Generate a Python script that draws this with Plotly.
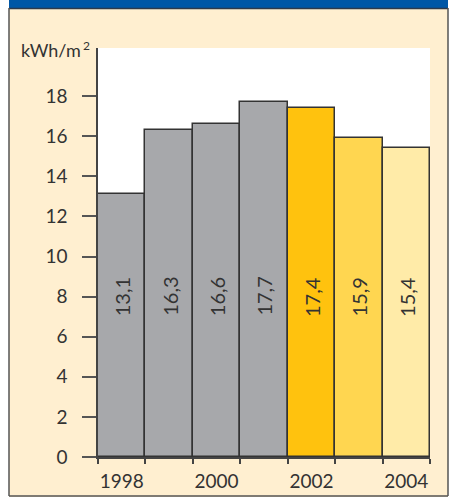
import plotly.graph_objects as go

years = [1998, 1999, 2000, 2001, 2002, 2003, 2004]
values = [13.1, 16.3, 16.6, 17.7, 17.4, 15.9, 15.4]
value_labels = ["13,1", "16,3", "16,6", "17,7", "17,4", "15,9", "15,4"]
bar_colors = ["#a7a8ab", "#a7a8ab", "#a7a8ab", "#a7a8ab", "#ffc20e", "#ffd650", "#ffeba8"]
x_tick_years = [1998, 2000, 2002, 2004]
x_tick_text = ["1998", "2000", "2002", "2004"]
y_ticks = [0, 2, 4, 6, 8, 10, 12, 14, 16, 18]
unit_base = "kWh/m"
unit_exp = "2"

W, H = 450, 497
L, R, T, B = 98, 430, 48, 457  # plot area in pixels


def px(x):
    return (x - L) / (R - L)


def py(y):
    return (B - y) / (B - T)


FONT = "Lato, 'DejaVu Sans', sans-serif"
TXT = "#333333"

fig = go.Figure()
fig.add_trace(go.Bar(
    x=years, y=values, width=1,
    marker=dict(color=bar_colors, line=dict(color="#333333", width=1.5)),
    hoverinfo="skip",
))

for yr, lab in zip(years, value_labels):
    fig.add_annotation(x=yr, y=8, text=lab, textangle=-90, showarrow=False,
                       font=dict(family=FONT, size=20, color=TXT),
                       xref="x", yref="y")

fig.add_annotation(x=px(20), y=py(50), xref="paper", yref="paper", text=unit_base,
                   showarrow=False, xanchor="left", yanchor="middle", borderpad=0,
                   font=dict(family=FONT, size=18, color=TXT))
fig.add_annotation(x=px(82), y=py(45), xref="paper", yref="paper", text=unit_exp,
                   showarrow=False, xanchor="left", yanchor="middle", borderpad=0,
                   font=dict(family=FONT, size=12, color=TXT))

shapes = [
    dict(type="rect", xref="paper", yref="paper", x0=px(-2), x1=px(9), y0=py(H + 2), y1=py(-2),
         fillcolor="white", line=dict(width=0), layer="above"),
    dict(type="rect", xref="paper", yref="paper", x0=px(448), x1=px(W + 2), y0=py(H + 2), y1=py(-2),
         fillcolor="white", line=dict(width=0), layer="above"),
    dict(type="rect", xref="paper", yref="paper", x0=px(9), x1=px(448), y0=py(8), y1=py(-2),
         fillcolor="#0057a6", line=dict(width=0), layer="above"),
    dict(type="line", xref="paper", yref="paper", x0=px(9), x1=px(448), y0=py(8.5), y1=py(8.5),
         line=dict(color="#2f3a4a", width=1.5), layer="above"),
    dict(type="line", xref="paper", yref="paper", x0=px(9), x1=px(9), y0=py(8), y1=py(496),
         line=dict(color="#555555", width=1.5), layer="above"),
    dict(type="line", xref="paper", yref="paper", x0=px(448), x1=px(448), y0=py(8), y1=py(496),
         line=dict(color="#555555", width=1.5), layer="above"),
    dict(type="line", xref="paper", yref="paper", x0=px(9), x1=px(448), y0=py(496), y1=py(496),
         line=dict(color="#555555", width=1.5), layer="above"),
]

x_lo, x_hi = years[0] - 0.5, years[-1] + 0.5
boundaries = [y - 0.5 for y in years] + [x_hi]

fig.update_layout(
    width=W, height=H,
    margin=dict(l=L, r=W - R, t=T, b=H - B, pad=0, autoexpand=False),
    paper_bgcolor="#ffefd0",
    plot_bgcolor="white",
    bargap=0,
    showlegend=False,
    shapes=shapes,
    font=dict(family=FONT, color=TXT),
    xaxis=dict(
        tickmode="array", tickvals=x_tick_years, ticktext=x_tick_text,
        ticks="", ticklabelstandoff=6, automargin=False,
        minor=dict(tickmode="array", tickvals=boundaries, ticks="outside", ticklen=5,
                   tickwidth=1.5, tickcolor="#444444", showgrid=False),
        showline=True, linecolor="#444444", linewidth=1.5, showgrid=False, zeroline=False,
        tickfont=dict(family=FONT, size=19, color=TXT), tickangle=0,
        range=[x_lo, x_hi], fixedrange=True,
    ),
    yaxis=dict(
        range=[0, 20.4], tickmode="array", tickvals=y_ticks, automargin=False,
        ticks="outside", ticklen=14, tickwidth=1.5, tickcolor="#555555",
        showline=True, linecolor="#444444", linewidth=1.5, showgrid=False, zeroline=False,
        tickfont=dict(family=FONT, size=19, color=TXT), ticklabelstandoff=11,
        fixedrange=True,
    ),
)

fig.write_html("out.html", config={"displayModeBar": False},
               post_script="document.body.style.margin='0';document.body.style.overflow='hidden';")
